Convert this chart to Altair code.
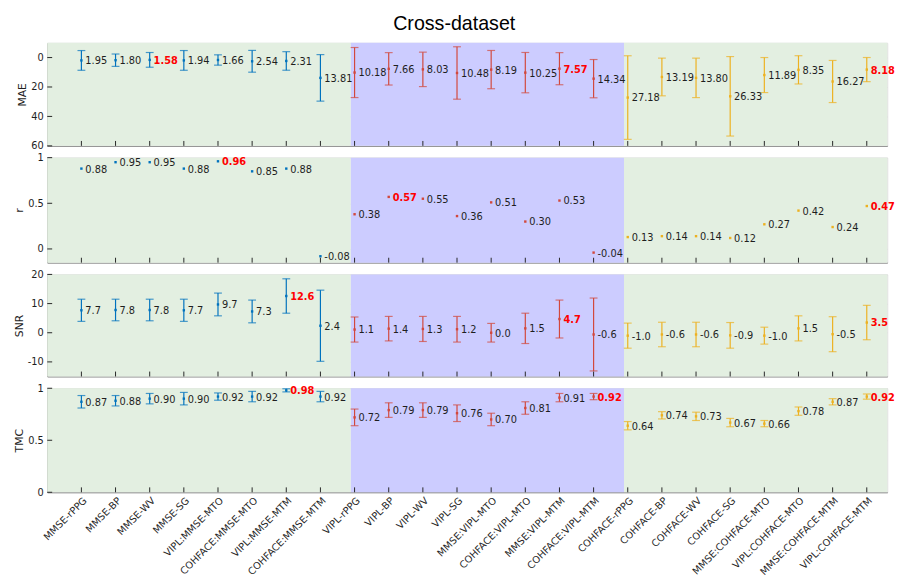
import altair as alt
import pandas as pd

names = ["MMSE-rPPG", "MMSE-BP", "MMSE-WV", "MMSE-SG", "VIPL:MMSE-MTO", "COHFACE:MMSE-MTO",
         "VIPL:MMSE-MTM", "COHFACE:MMSE-MTM",
         "VIPL-rPPG", "VIPL-BP", "VIPL-WV", "VIPL-SG", "MMSE:VIPL-MTO", "COHFACE:VIPL-MTO",
         "MMSE:VIPL-MTM", "COHFACE:VIPL-MTM",
         "COHFACE-rPPG", "COHFACE-BP", "COHFACE-WV", "COHFACE-SG", "MMSE:COHFACE-MTO",
         "VIPL:COHFACE-MTO", "MMSE:COHFACE-MTM", "VIPL:COHFACE-MTM"]
group_names = ["MMSE"] * 8 + ["VIPL"] * 8 + ["COHFACE"] * 8

mae_mean = [1.95, 1.80, 1.58, 1.94, 1.66, 2.54, 2.31, 13.81,
            10.18, 7.66, 8.03, 10.48, 8.19, 10.25, 7.57, 14.34,
            27.18, 13.19, 13.80, 26.33, 11.89, 8.35, 16.27, 8.18]
mae_std = [6.7, 4.2, 5.0, 6.7, 3.5, 7.4, 6.3, 15.8,
           17.0, 11.0, 11.7, 17.8, 13.0, 13.7, 10.9, 13.0,
           28.4, 12.8, 13.4, 27.0, 11.9, 9.6, 14.3, 8.2]
r_mean = [0.88, 0.95, 0.95, 0.88, 0.96, 0.85, 0.88, -0.08,
          0.38, 0.57, 0.55, 0.36, 0.51, 0.30, 0.53, -0.04,
          0.13, 0.14, 0.14, 0.12, 0.27, 0.42, 0.24, 0.47]
snr_mean = [7.7, 7.8, 7.8, 7.7, 9.7, 7.3, 12.6, 2.4,
            1.1, 1.4, 1.3, 1.2, 0.0, 1.5, 4.7, -0.6,
            -1.0, -0.6, -0.6, -0.9, -1.0, 1.5, -0.5, 3.5]
snr_std = [3.8, 3.7, 3.7, 3.8, 3.9, 3.9, 5.9, 12.2,
           4.3, 4.2, 4.3, 4.4, 3.2, 5.2, 6.5, 12.5,
           4.3, 4.2, 4.2, 4.4, 2.9, 4.3, 6.0, 5.9]
tmc_mean = [0.87, 0.88, 0.90, 0.90, 0.92, 0.92, 0.98, 0.92,
            0.72, 0.79, 0.79, 0.76, 0.70, 0.81, 0.91, 0.92,
            0.64, 0.74, 0.73, 0.67, 0.66, 0.78, 0.87, 0.92]
tmc_std = [0.06, 0.05, 0.05, 0.06, 0.035, 0.05, 0.015, 0.05,
           0.08, 0.07, 0.07, 0.08, 0.06, 0.06, 0.04, 0.03,
           0.04, 0.035, 0.04, 0.04, 0.03, 0.04, 0.03, 0.025]

mae_best = [3, 15, 24]
r_best = [5, 10, 24]
snr_best = [7, 15, 24]
tmc_best = [7, 16, 24]

band_start = [0, 8.89, 16.89]
band_end = [8.89, 16.89, 24.6]
band_color = ["#E3EFE1", "#CCCCFF", "#E3EFE1"]

group_domain = ["MMSE", "VIPL", "COHFACE"]
group_colors = ["#0072BD", "#D2483C", "#EDB120"]

FONT = "DejaVu Sans"
W = 856
TXT = "#1e1e1e"

bands = pd.DataFrame({"start": band_start, "end": band_end, "color": band_color})
cats = pd.DataFrame({"idx": list(range(1, 25))})
label_js = "[" + ",".join("'%s'" % n for n in names) + "][datum.value - 1]"


def panel(title, mean, std, dec, best, domain, ticks, reverse, height, bottom):
    df = pd.DataFrame({"idx": list(range(1, 25)), "group": group_names, "mean": mean})
    df["label"] = [("%." + str(dec) + "f") % v for v in mean]
    df["best"] = [(i + 1) in best for i in range(24)]
    if std is not None:
        df["lo"] = [m - s for m, s in zip(mean, std)]
        df["hi"] = [m + s for m, s in zip(mean, std)]

    xscale = alt.Scale(domain=[0, 24.6], nice=False, zero=False)
    yscale = alt.Scale(domain=domain, reverse=reverse, nice=False, zero=False)
    if bottom:
        xaxis = alt.Axis(values=list(range(1, 25)), title=None, grid=True, ticks=False,
                         labelExpr=label_js, labelAngle=-45, labelAlign="right",
                         labelBaseline="top", labelPadding=3, labelFontSize=10,
                         labelFont=FONT, labelColor=TXT, labelOverlap=False,
                         labelBound=False, labelFlush=False)
    else:
        xaxis = alt.Axis(values=list(range(1, 25)), title=None, grid=True, ticks=False,
                         labels=False)
    yaxis = alt.Axis(values=ticks, title=title, grid=True, ticks=False,
                     labelExpr="datum.value + ''", labelPadding=4, titlePadding=3,
                     titleFontSize=11, titleFontWeight="normal", titleFont=FONT,
                     titleColor=TXT, labelFont=FONT, labelFontSize=10, labelColor=TXT,
                     labelFlush=False, labelOverlap=False)

    X = alt.X("idx:Q", scale=xscale, axis=xaxis)
    color = alt.Color("group:N", scale=alt.Scale(domain=group_domain, range=group_colors),
                      legend=None)

    bg = alt.Chart(bands).mark_rect().encode(
        x=alt.X("start:Q", scale=xscale, axis=xaxis), x2="end:Q",
        y=alt.value(0), y2=alt.value(height),
        color=alt.Color("color:N", scale=None))

    base = alt.Chart(df)
    layers = [bg]
    if std is not None:
        layers.append(base.mark_rule(strokeWidth=1.2).encode(
            x=X, y=alt.Y("lo:Q", scale=yscale, axis=yaxis), y2="hi:Q", color=color))
        layers.append(base.mark_tick(orient="horizontal", size=8, thickness=1.2).encode(
            x=X, y=alt.Y("lo:Q", scale=yscale, axis=yaxis), color=color))
        layers.append(base.mark_tick(orient="horizontal", size=8, thickness=1.2).encode(
            x=X, y=alt.Y("hi:Q", scale=yscale, axis=yaxis), color=color))
    Y = alt.Y("mean:Q", scale=yscale, axis=yaxis)
    layers.append(base.mark_square(size=6, opacity=1).encode(x=X, y=Y, color=color))
    layers.append(base.transform_filter("!datum.best").mark_text(
        align="left", baseline="middle", dx=4, dy=1, fontSize=10, font=FONT,
        color=TXT).encode(x=X, y=Y, text="label:N"))
    layers.append(base.transform_filter("datum.best").mark_text(
        align="left", baseline="middle", dx=4, dy=1, fontSize=10, font=FONT,
        fontWeight="bold", color="#FF0000").encode(x=X, y=Y, text="label:N"))
    # inward ticks (MATLAB style)
    layers.append(alt.Chart(cats).mark_rule(color="#262626", strokeWidth=1).encode(
        x=X, y=alt.value(height), y2=alt.value(height - 5)))
    yt = pd.DataFrame({"v": ticks})
    layers.append(alt.Chart(yt).mark_rule(color="#262626", strokeWidth=1).encode(
        y=alt.Y("v:Q", scale=yscale, axis=yaxis), x=alt.value(0), x2=alt.value(5)))

    return alt.layer(*layers).properties(width=W, height=height)


p1 = panel("MAE", mae_mean, mae_std, 2, mae_best, [-10, 60], [0, 20, 40, 60], True, 105, False)
p2 = panel("r", r_mean, None, 2, r_best, [-0.15, 1], [0, 0.5, 1], False, 107, False)
p3 = panel("SNR", snr_mean, snr_std, 1, snr_best, [-15, 20], [-10, 0, 10, 20], False, 104, False)
p4 = panel("TMC", tmc_mean, tmc_std, 2, tmc_best, [0, 1], [0, 0.5, 1], False, 106, True)

chart = alt.vconcat(p1, p2, p3, p4, spacing=12, bounds="flush").properties(
    title=alt.TitleParams("Cross-dataset", fontSize=20, font="Liberation Sans",
                          fontWeight="normal", anchor="middle", color="#000000",
                          offset=6, dy=-3),
    padding={"top": 0, "left": 5, "right": 5, "bottom": 2},
).configure_view(stroke=None).configure_axis(
    zindex=1, domainColor="#262626", domainWidth=1, gridColor="#c4c4c4", gridOpacity=0.55,
).configure(background="white")

chart.save("out.html", embed_options={"renderer": "svg", "actions": False})
